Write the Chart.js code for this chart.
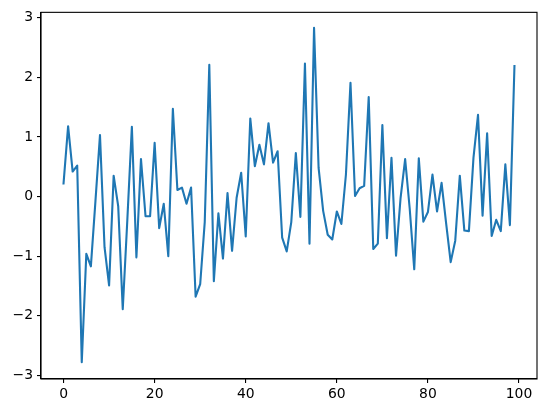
<!DOCTYPE html>
<html><head><meta charset="utf-8">
<script src="https://cdn.jsdelivr.net/npm/chart.js@4"></script>
<style>html,body{margin:0;padding:0;background:#fff;}#wrap{width:546px;height:413px;}</style>
</head><body><div id="wrap"><canvas id="c" width="546" height="413"></canvas></div>
<script>
const values = [0.22,1.18,0.42,0.52,-2.78,-0.96,-1.17,-0.08,1.03,-0.85,
-1.49,0.35,-0.16,-1.89,-0.4,1.17,-1.02,0.63,-0.33,-0.33,
0.90,-0.53,-0.12,-1.0,1.47,0.11,0.15,-0.12,0.15,-1.68,
-1.47,-0.43,2.21,-1.42,-0.28,-1.04,0.06,-0.91,-0.02,0.40,
-0.67,1.31,0.51,0.87,0.54,1.23,0.57,0.76,-0.69,-0.92,
-0.43,0.73,-0.34,2.23,-0.79,2.83,0.48,-0.24,-0.64,-0.72,
-0.25,-0.46,0.37,1.91,0.01,0.14,0.18,1.67,-0.88,-0.79,
1.20,-0.70,0.65,-0.99,-0.02,0.63,-0.2,-1.22,0.64,-0.42,
-0.26,0.37,-0.25,0.23,-0.45,-1.10,-0.74,0.35,-0.57,-0.58,
0.65,1.37,-0.32,1.06,-0.66,-0.39,-0.58,0.54,-0.48,2.19];
const xTicks = [0,20,40,60,80,100];
const yTicks = [-3,-2,-1,0,1,2,3];
const xRange = [-4.95,103.95];
const yRange = [-3.06,3.09];

const points = values.map((v,i)=>({x:i,y:v}));
const font = {family:'DejaVu Sans', size:13.9};
const fmt = v => String(v).replace('-', '\u2212');

const frame = {
  id:'frame',
  afterDraw(chart){
    const a = chart.chartArea, ctx = chart.ctx;
    ctx.save();
    ctx.strokeStyle = '#000';
    ctx.lineWidth = 1.1;
    ctx.strokeRect(a.left, a.top, a.right-a.left, a.bottom-a.top);
    ctx.restore();
  }
};

new Chart(document.getElementById('c'), {
  type:'line',
  data:{datasets:[{data:points, borderColor:'#1f77b4', borderWidth:2.1, pointRadius:0,
    tension:0, fill:false, borderJoinStyle:'round', borderCapStyle:'square'}]},
  options:{
    responsive:false, animation:false, devicePixelRatio:1,
    layout:{padding:{left:0,right:9,top:10,bottom:0}},
    plugins:{legend:{display:false}, tooltip:{enabled:false}},
    scales:{
      x:{type:'linear', min:xRange[0], max:xRange[1],
        afterBuildTicks: s => { s.ticks = xTicks.map(v=>({value:v})); },
        afterFit: s => { s.height = 34; },
        grid:{drawOnChartArea:false, drawTicks:true, tickLength:4, color:'#000', lineWidth:1.1},
        border:{display:true, color:'#000', width:1.1},
        ticks:{font, color:'#000', padding:3, maxRotation:0, autoSkip:false, callback:v=>fmt(v)}
      },
      y:{type:'linear', min:yRange[0], max:yRange[1],
        afterBuildTicks: s => { s.ticks = yTicks.map(v=>({value:v})); },
        afterFit: s => { s.width = 41; },
        grid:{drawOnChartArea:false, drawTicks:true, tickLength:4, color:'#000', lineWidth:1.1},
        border:{display:true, color:'#000', width:1.1},
        ticks:{font, color:'#000', padding:4, autoSkip:false, callback:v=>fmt(v)}
      }
    }
  },
  plugins:[frame]
});
</script></body></html>
